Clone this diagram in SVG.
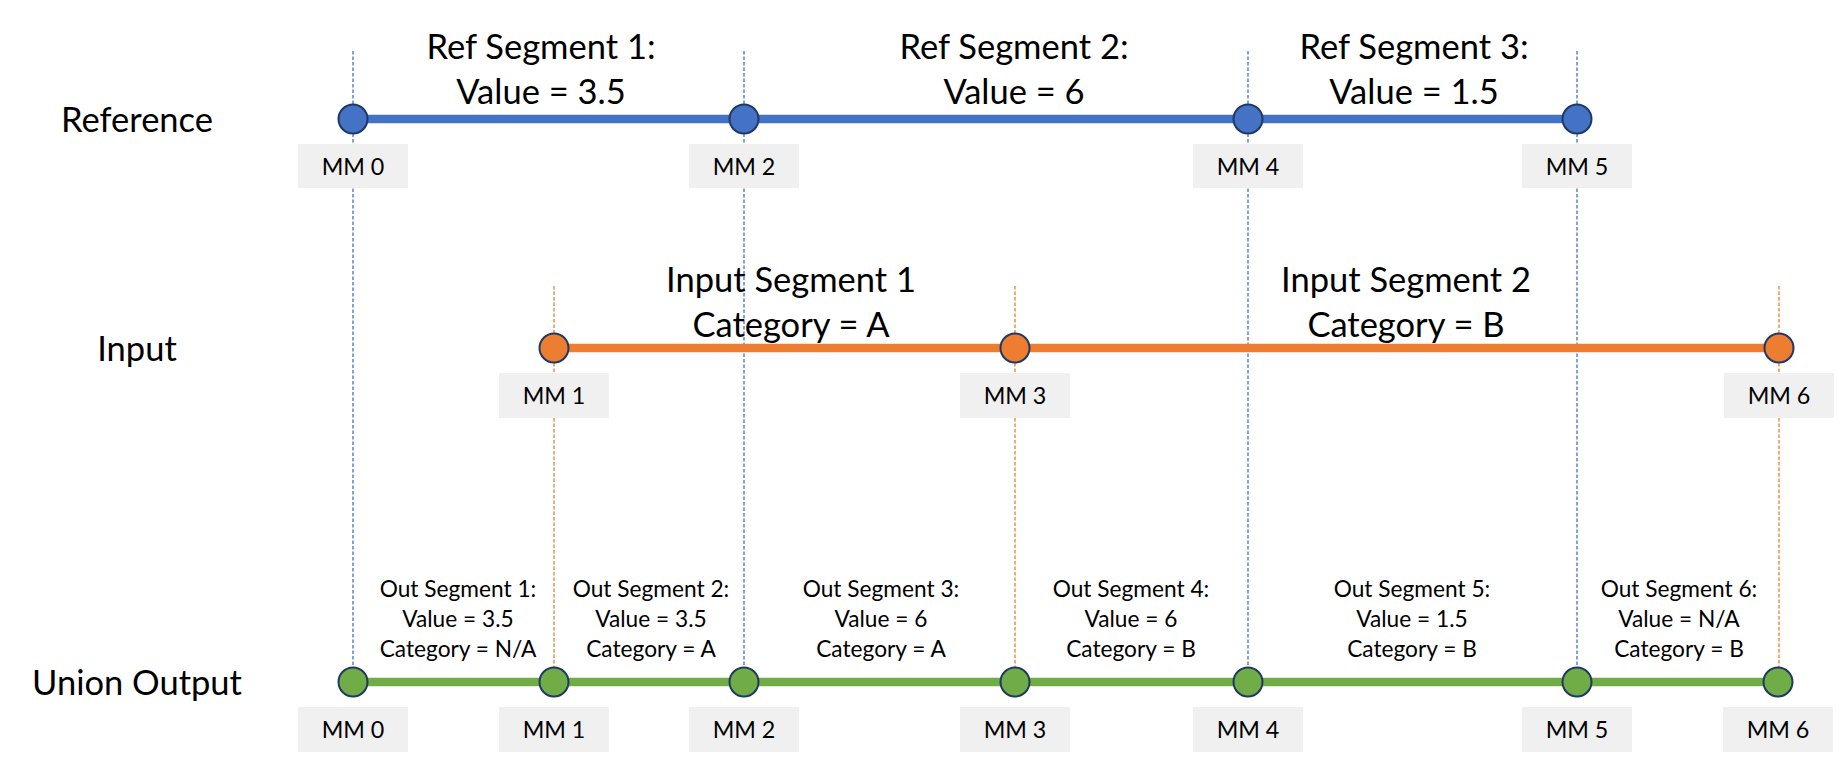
<svg xmlns="http://www.w3.org/2000/svg" width="1846" height="764" viewBox="0 0 1846 764">
<style>
  text { font-family: Lato, "Liberation Sans", sans-serif; fill: #000; text-anchor: middle; }
  .big { font-size: 34.5px; }
  .small { font-size: 22.7px; }
  .mm { font-size: 23.3px; }
  .box { fill: #F0F0F0; }
  .vb { stroke: #4472C4; stroke-width: 1.3; stroke-dasharray: 3.5 2; fill: none; }
  .vo { stroke: #ED7D31; stroke-width: 1.3; stroke-dasharray: 3.5 2; fill: none; }
  .lb { stroke: #4472C4; stroke-width: 8.5; }
  .lo { stroke: #ED7D31; stroke-width: 8.5; }
  .lg { stroke: #70AD47; stroke-width: 8.5; }
  .cb { fill: #4472C4; stroke: #1F3864; stroke-width: 2; }
  .co { fill: #ED7D31; stroke: #1F3864; stroke-width: 2; }
  .cg { fill: #70AD47; stroke: #1F3864; stroke-width: 2; }
</style>
<rect width="1846" height="764" fill="#FFFFFF"/>
<g id="guides">
  <line class="vb" x1="353" y1="51" x2="353" y2="667"/>
  <line class="vb" x1="744" y1="51" x2="744" y2="667"/>
  <line class="vb" x1="1248" y1="51" x2="1248" y2="667"/>
  <line class="vb" x1="1577" y1="51" x2="1577" y2="667"/>
  <line class="vo" x1="554" y1="286" x2="554" y2="667"/>
  <line class="vo" x1="1015" y1="286" x2="1015" y2="667"/>
  <line class="vo" x1="1779" y1="286" x2="1779" y2="667"/>
</g>
<g id="row-labels">
  <text class="big" x="137" y="132">Reference</text>
  <text class="big" x="137" y="361">Input</text>
  <text class="big" x="137" y="695">Union Output</text>
</g>
<g id="connectors">
  <line class="lb" x1="353" y1="119" x2="1577" y2="119"/>
  <line class="lo" x1="554" y1="348" x2="1779" y2="348"/>
  <line class="lg" x1="353" y1="682" x2="1778" y2="682"/>
</g>
<g id="reference">
  <g id="ref-mm0"><rect class="box" x="298" y="144" width="110" height="44"/><text class="mm" x="353" y="175">MM 0</text><circle class="cb" cx="353" cy="119" r="14.5"/></g>
  <g id="ref-mm2"><rect class="box" x="689" y="144" width="110" height="44"/><text class="mm" x="744" y="175">MM 2</text><circle class="cb" cx="744" cy="119" r="14.5"/></g>
  <g id="ref-mm4"><rect class="box" x="1193" y="144" width="110" height="44"/><text class="mm" x="1248" y="175">MM 4</text><circle class="cb" cx="1248" cy="119" r="14.5"/></g>
  <g id="ref-mm5"><rect class="box" x="1522" y="144" width="110" height="44"/><text class="mm" x="1577" y="175">MM 5</text><circle class="cb" cx="1577" cy="119" r="14.5"/></g>
  <g id="ref-seg1"><text class="big" x="541" y="59">Ref Segment 1:</text><text class="big" x="541" y="104">Value = 3.5</text></g>
  <g id="ref-seg2"><text class="big" x="1014" y="59">Ref Segment 2:</text><text class="big" x="1014" y="104">Value = 6</text></g>
  <g id="ref-seg3"><text class="big" x="1414" y="59">Ref Segment 3:</text><text class="big" x="1414" y="104">Value = 1.5</text></g>
</g>
<g id="input">
  <g id="in-mm1"><rect class="box" x="499" y="373" width="110" height="45"/><text class="mm" x="554" y="404">MM 1</text><circle class="co" cx="554" cy="348" r="14.5"/></g>
  <g id="in-mm3"><rect class="box" x="960" y="373" width="110" height="45"/><text class="mm" x="1015" y="404">MM 3</text><circle class="co" cx="1015" cy="348" r="14.5"/></g>
  <g id="in-mm6"><rect class="box" x="1724" y="373" width="110" height="45"/><text class="mm" x="1779" y="404">MM 6</text><circle class="co" cx="1779" cy="348" r="14.5"/></g>
  <g id="in-seg1"><text class="big" x="791" y="292">Input Segment 1</text><text class="big" x="791" y="337">Category = A</text></g>
  <g id="in-seg2"><text class="big" x="1406" y="292">Input Segment 2</text><text class="big" x="1406" y="337">Category = B</text></g>
</g>
<g id="union">
  <g id="un-mm0"><rect class="box" x="298" y="707" width="110" height="45"/><text class="mm" x="353" y="738">MM 0</text><circle class="cg" cx="353" cy="682" r="14.5"/></g>
  <g id="un-mm1"><rect class="box" x="499" y="707" width="110" height="45"/><text class="mm" x="554" y="738">MM 1</text><circle class="cg" cx="554" cy="682" r="14.5"/></g>
  <g id="un-mm2"><rect class="box" x="689" y="707" width="110" height="45"/><text class="mm" x="744" y="738">MM 2</text><circle class="cg" cx="744" cy="682" r="14.5"/></g>
  <g id="un-mm3"><rect class="box" x="960" y="707" width="110" height="45"/><text class="mm" x="1015" y="738">MM 3</text><circle class="cg" cx="1015" cy="682" r="14.5"/></g>
  <g id="un-mm4"><rect class="box" x="1193" y="707" width="110" height="45"/><text class="mm" x="1248" y="738">MM 4</text><circle class="cg" cx="1248" cy="682" r="14.5"/></g>
  <g id="un-mm5"><rect class="box" x="1522" y="707" width="110" height="45"/><text class="mm" x="1577" y="738">MM 5</text><circle class="cg" cx="1577" cy="682" r="14.5"/></g>
  <g id="un-mm6"><rect class="box" x="1723" y="707" width="110" height="45"/><text class="mm" x="1778" y="738">MM 6</text><circle class="cg" cx="1778" cy="682" r="14.5"/></g>
  <g id="out-seg1"><text class="small" x="458" y="597">Out Segment 1:</text><text class="small" x="458" y="627">Value = 3.5</text><text class="small" x="458" y="657">Category = N/A</text></g>
  <g id="out-seg2"><text class="small" x="651" y="597">Out Segment 2:</text><text class="small" x="651" y="627">Value = 3.5</text><text class="small" x="651" y="657">Category = A</text></g>
  <g id="out-seg3"><text class="small" x="881" y="597">Out Segment 3:</text><text class="small" x="881" y="627">Value = 6</text><text class="small" x="881" y="657">Category = A</text></g>
  <g id="out-seg4"><text class="small" x="1131" y="597">Out Segment 4:</text><text class="small" x="1131" y="627">Value = 6</text><text class="small" x="1131" y="657">Category = B</text></g>
  <g id="out-seg5"><text class="small" x="1412" y="597">Out Segment 5:</text><text class="small" x="1412" y="627">Value = 1.5</text><text class="small" x="1412" y="657">Category = B</text></g>
  <g id="out-seg6"><text class="small" x="1679" y="597">Out Segment 6:</text><text class="small" x="1679" y="627">Value = N/A</text><text class="small" x="1679" y="657">Category = B</text></g>
</g>
</svg>
